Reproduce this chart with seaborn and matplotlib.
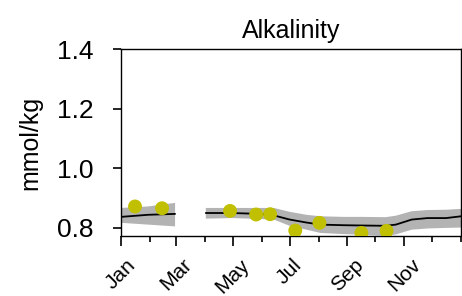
import numpy as np
import pandas as pd
import matplotlib
matplotlib.use("Agg")
import matplotlib.pyplot as plt
import seaborn as sns

# climatology (day of year), NaN = no data between Mar and Apr
clim_day = [1, 30, 59, 60, 91, 92, 120, 150, 165, 182, 200, 215, 240, 260, 285,
            296, 313, 330, 350, 366]
clim_mean = [0.836, 0.843, 0.846, np.nan, np.nan, 0.849, 0.849, 0.846, 0.841, 0.827,
             0.817, 0.810, 0.808, 0.807, 0.806, 0.810, 0.827, 0.832, 0.832, 0.838]
clim_hi = [0.866, 0.871, 0.883, np.nan, np.nan, 0.866, 0.866, 0.866, 0.866, 0.853,
           0.843, 0.838, 0.836, 0.836, 0.835, 0.840, 0.855, 0.859, 0.860, 0.863]
clim_lo = [0.816, 0.810, 0.804, np.nan, np.nan, 0.830, 0.832, 0.829, 0.827, 0.806,
           0.793, 0.782, 0.778, 0.776, 0.772, 0.777, 0.793, 0.797, 0.799, 0.800]

# observations
obs_day = [16, 45, 118, 146, 161, 188, 214, 259, 286]
obs_val = [0.871, 0.865, 0.856, 0.844, 0.845, 0.790, 0.816, 0.782, 0.789]

major_day = [1, 60, 121, 182, 244, 305]
major_lbl = ["Jan", "Mar", "May", "Jul", "Sep", "Nov"]
minor_day = [32, 91, 152, 213, 274, 335, 366]

sns.set_style("ticks")
plt.rcParams["font.family"] = ["Liberation Sans", "DejaVu Sans"]
plt.rcParams.update({"text.color": "black", "axes.labelcolor": "black",
                     "xtick.color": "black", "ytick.color": "black",
                     "axes.edgecolor": "black"})

clim = pd.DataFrame({"day": clim_day, "mean": clim_mean, "hi": clim_hi, "lo": clim_lo})
obs = pd.DataFrame({"day": obs_day, "val": obs_val})

fig = plt.figure(figsize=(4.62, 2.96), dpi=100)
ax = fig.add_axes([0.262, 0.203, 0.736, 0.631])

ax.fill_between(clim["day"], clim["lo"], clim["hi"], color="#b3b3b3", lw=0)
ax.plot(clim["day"], clim["mean"], color="black", lw=1.3)
sns.scatterplot(data=obs, x="day", y="val", ax=ax, color="#c0c000", s=100,
                edgecolor="none", zorder=3)

ax.set_xlim(1, 366)
ax.set_ylim(0.772, 1.4)
ax.set_xticks(major_day)
ax.set_xticklabels(major_lbl, rotation=45, fontsize=15)
ax.set_xticks(minor_day, minor=True)
ax.set_yticks([0.8, 1.0, 1.2, 1.4])
ax.tick_params(axis="y", labelsize=19, length=6, width=1.2, pad=14)
ax.tick_params(axis="x", which="major", length=7, width=1.2, pad=7)
ax.tick_params(axis="x", which="minor", length=4.5, width=1.2)
ax.set_xlabel("")
ax.set_ylabel("mmol/kg", fontsize=18, labelpad=10)
ax.set_title("Alkalinity", fontsize=18, pad=8)
for s in ax.spines.values():
    s.set_linewidth(1.0)

fig.savefig("out.png", dpi=100)
